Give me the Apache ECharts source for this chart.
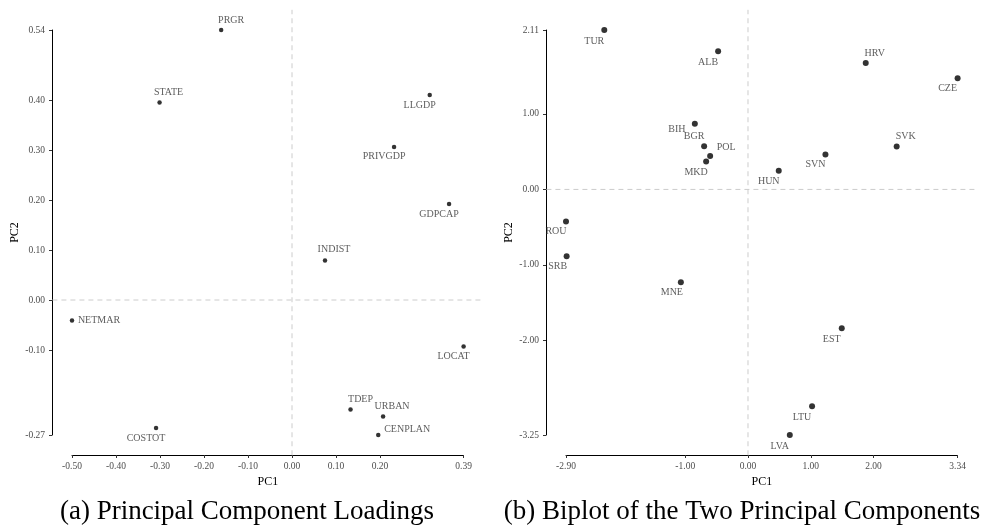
<!DOCTYPE html>
<html>
<head>
<meta charset="utf-8">
<script src="https://cdn.jsdelivr.net/npm/echarts@6/dist/echarts.min.js"></script>
<style>
  html, body { margin: 0; padding: 0; background: #fff; }
  #chart { width: 982px; height: 531px; }
</style>
</head>
<body>
<div id="chart"></div>
<script>
// Panel (a): loadings of each variable on the first two principal components
const loadVars = ['PRGR', 'STATE', 'LLGDP', 'PRIVGDP', 'GDPCAP', 'INDIST', 'NETMAR', 'COSTOT', 'LOCAT', 'TDEP', 'URBAN', 'CENPLAN'];
const loadPC1 = [-0.161, -0.301, 0.313, 0.232, 0.357, 0.075, -0.50, -0.309, 0.39, 0.133, 0.207, 0.196];
const loadPC2 = [0.54, 0.395, 0.41, 0.306, 0.192, 0.079, -0.041, -0.256, -0.093, -0.219, -0.233, -0.27];
const loadXTicks = [-0.5, -0.4, -0.3, -0.2, -0.1, 0, 0.1, 0.2, 0.39];
const loadYTicks = [-0.27, -0.1, 0, 0.1, 0.2, 0.3, 0.4, 0.54];

// Panel (b): country scores on the first two principal components
const countries = ['TUR', 'ALB', 'BIH', 'BGR', 'POL', 'MKD', 'ROU', 'SRB', 'MNE', 'HRV', 'CZE', 'SVK', 'SVN', 'HUN', 'EST', 'LTU', 'LVA'];
const scorePC1 = [-2.29, -0.476, -0.847, -0.699, -0.603, -0.667, -2.90, -2.89, -1.07, 1.876, 3.34, 2.369, 1.234, 0.49, 1.494, 1.021, 0.666];
const scorePC2 = [2.11, 1.83, 0.868, 0.573, 0.441, 0.37, -0.424, -0.883, -1.227, 1.672, 1.473, 0.569, 0.463, 0.246, -1.836, -2.868, -3.25];
const scoreXTicks = [-2.9, -1, 0, 1, 2, 3.34];
const scoreYTicks = [-3.25, -2, -1, 0, 1, 2.11];

const captions = ['(a) Principal Component Loadings', '(b) Biplot of the Two Principal Components'];

// text placement around each point (pixel offset of label centre from the dot)
const labelNudge = {
  PRGR: [10, -10], STATE: [9, -10], LLGDP: [-10, 10], PRIVGDP: [-10, 9], GDPCAP: [-10, 10],
  INDIST: [9, -11], NETMAR: [27, 0], COSTOT: [-10, 10], LOCAT: [-10, 10], TDEP: [10, -10],
  URBAN: [9, -10], CENPLAN: [29, -6],
  TUR: [-10, 11], ALB: [-10, 11], BIH: [-18, 6], BGR: [-10, -10], POL: [16, -9], MKD: [-10, 11],
  ROU: [-10, 10], SRB: [-9, 10], MNE: [-9, 10], HRV: [9, -10], CZE: [-10, 10], SVK: [9, -10],
  SVN: [-10, 10], HUN: [-10, 11], EST: [-10, 11], LTU: [-10, 11], LVA: [-10, 11]
};

const SERIF = 'Liberation Serif, Times New Roman, serif';
const EXPAND = 0.05;          // panel padding around the data range
const AXIS_GAP = 20;          // range-frame axes sit outside the data area

function extent(arr) { return [Math.min(...arr), Math.max(...arr)]; }
function padded(arr) {
  const [lo, hi] = extent(arr);
  const d = (hi - lo) * EXPAND;
  return [lo - d, hi + d];
}

// Data-area rectangles of the two panels
const panels = [
  { left: 72, top: 30, width: 391.6, height: 405 },
  { left: 566, top: 30, width: 391.6, height: 405 }
];
function paddedRect(p) {
  const dx = p.width * EXPAND;
  const dy = p.height * EXPAND;
  return { left: p.left - dx, top: p.top - dy, width: p.width + 2 * dx, height: p.height + 2 * dy };
}

function frameAxis(kind, values, ticks, gridIndex, name, nameGap) {
  const [lo, hi] = extent(values);
  return {
    type: 'value', gridIndex, min: lo, max: hi, offset: AXIS_GAP,
    name, nameLocation: 'middle', nameGap,
    nameTextStyle: { fontFamily: SERIF, fontSize: 12, color: '#000' },
    axisLine: { show: true, onZero: false, lineStyle: { color: '#000', width: 1 } },
    axisTick: { show: true, length: 3, customValues: ticks, lineStyle: { color: '#333' } },
    axisLabel: {
      show: true, customValues: ticks, margin: kind === 'x' ? 6 : 7,
      fontFamily: SERIF, fontSize: 9.5, color: '#4d4d4d',
      formatter: v => Number(v).toFixed(2)
    },
    splitLine: { show: false }
  };
}
function hiddenAxis(values, gridIndex) {
  const [lo, hi] = padded(values);
  return { type: 'value', gridIndex, min: lo, max: hi, show: false, splitLine: { show: false } };
}

function pointSeries(names, xs, ys, axisIndex, size) {
  return {
    type: 'scatter', xAxisIndex: axisIndex, yAxisIndex: axisIndex, z: 5,
    symbolSize: size, itemStyle: { color: '#000' }, silent: true,
    data: names.map((n, i) => ({
      value: [xs[i], ys[i]], name: n,
      label: { show: true, position: 'inside', offset: labelNudge[n], formatter: n }
    })),
    label: { fontFamily: SERIF, fontSize: 10, color: '#333', align: 'center', verticalAlign: 'middle' }
  };
}

function zeroLines(xs, ys, axisIndex) {
  const [xl, xh] = padded(xs);
  const [yl, yh] = padded(ys);
  const style = { color: '#cccccc', width: 1, type: [5, 4] };
  return [
    { type: 'line', xAxisIndex: axisIndex, yAxisIndex: axisIndex, z: 1, silent: true, symbol: 'none',
      lineStyle: style, data: [[0, yl], [0, yh]] },
    { type: 'line', xAxisIndex: axisIndex, yAxisIndex: axisIndex, z: 1, silent: true, symbol: 'none',
      lineStyle: style, data: [[xl, 0], [xh, 0]] }
  ];
}

const chart = echarts.init(document.getElementById('chart'), null, { renderer: 'canvas' });
chart.setOption({
  animation: false,
  backgroundColor: '#fff',
  grid: [panels[0], paddedRect(panels[0]), panels[1], paddedRect(panels[1])],
  xAxis: [
    frameAxis('x', loadPC1, loadXTicks, 0, 'PC1', 21),
    hiddenAxis(loadPC1, 1),
    frameAxis('x', scorePC1, scoreXTicks, 2, 'PC1', 21),
    hiddenAxis(scorePC1, 3)
  ],
  yAxis: [
    frameAxis('y', loadPC2, loadYTicks, 0, 'PC2', 30),
    hiddenAxis(loadPC2, 1),
    frameAxis('y', scorePC2, scoreYTicks, 2, 'PC2', 29),
    hiddenAxis(scorePC2, 3)
  ],
  series: [
    ...zeroLines(loadPC1, loadPC2, 1),
    ...zeroLines(scorePC1, scorePC2, 3),
    pointSeries(loadVars, loadPC1, loadPC2, 0, 4.5),
    pointSeries(countries, scorePC1, scorePC2, 2, 6)
  ],
  graphic: [
    { type: 'text', x: 247, y: 512, silent: true,
      style: { text: captions[0], fontFamily: SERIF, fontSize: 27, fill: '#000', textAlign: 'center', textVerticalAlign: 'middle' } },
    { type: 'text', x: 742, y: 512, silent: true,
      style: { text: captions[1], fontFamily: SERIF, fontSize: 27, fill: '#000', textAlign: 'center', textVerticalAlign: 'middle' } }
  ]
});
</script>
</body>
</html>
